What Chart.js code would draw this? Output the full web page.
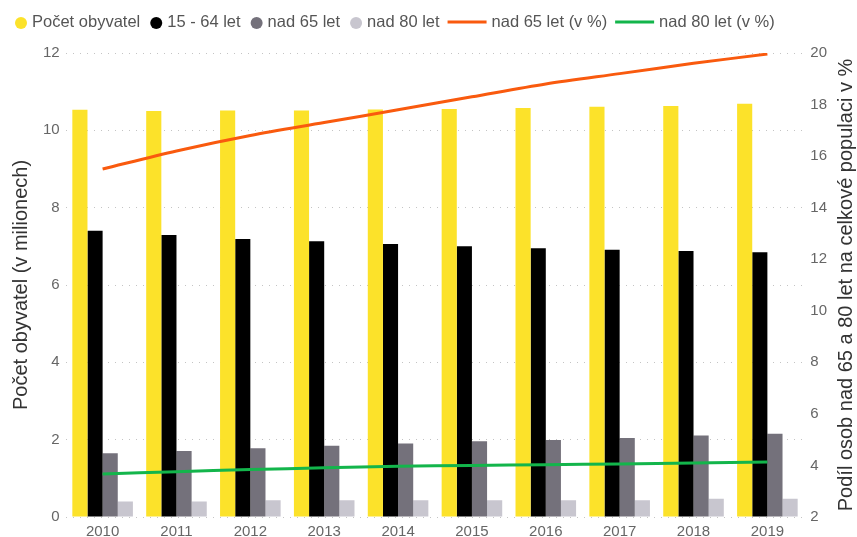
<!DOCTYPE html>
<html>
<head>
<meta charset="utf-8">
<script src="https://cdn.jsdelivr.net/npm/chart.js@4.4.1/dist/chart.umd.min.js"></script>
<style>
  html, body { margin: 0; padding: 0; background: #fff; }
  #wrap { width: 857px; height: 537px; position: relative; }
</style>
</head>
<body>
<div id="wrap"><canvas id="chart"></canvas></div>
<script>
const years = ["2010", "2011", "2012", "2013", "2014", "2015", "2016", "2017", "2018", "2019"];
const population = [10.53, 10.50, 10.51, 10.51, 10.54, 10.55, 10.58, 10.61, 10.63, 10.69];
const age15to64 = [7.40, 7.29, 7.19, 7.13, 7.06, 7.00, 6.95, 6.91, 6.88, 6.85];
const over65 = [1.65, 1.71, 1.78, 1.84, 1.90, 1.96, 1.99, 2.04, 2.11, 2.15];
const over80 = [0.40, 0.40, 0.43, 0.43, 0.43, 0.43, 0.43, 0.43, 0.47, 0.47];
const over65pct = [15.5, 16.2, 16.8, 17.3, 17.8, 18.3, 18.8, 19.2, 19.6, 19.96];
const over80pct = [3.67, 3.76, 3.84, 3.91, 3.97, 4.00, 4.03, 4.06, 4.09, 4.13];

const FONT = "'Liberation Sans', Arial, sans-serif";
const rightTitle = "Podíl osob nad 65 a 80 let na celkové populaci v %";

// legend drawn by hand: circles for bars, wide line for the lines
const customLegend = {
  id: "customLegend",
  afterDraw(chart) {
    const ctx = chart.ctx;
    ctx.save();
    ctx.font = "16.5px " + FONT;
    ctx.textBaseline = "middle";
    const y = 22;
    let x = 15;
    chart.data.datasets.forEach(function (ds, i) {
      if (ds.type === "line") {
        x += i > 0 ? 8 : 0;
        ctx.strokeStyle = ds.borderColor;
        ctx.lineWidth = 3;
        ctx.beginPath();
        ctx.moveTo(x, y);
        ctx.lineTo(x + 39, y);
        ctx.stroke();
        x += 44;
      } else {
        x += i > 0 ? 10 : 0;
        ctx.fillStyle = ds.backgroundColor;
        ctx.beginPath();
        ctx.arc(x + 6, y + 1, 6, 0, Math.PI * 2);
        ctx.fill();
        x += 17;
      }
      ctx.fillStyle = "#555";
      ctx.fillText(ds.label, x, y);
      x += ctx.measureText(ds.label).width;
    });

    // right axis title, reading bottom to top
    ctx.translate(846, (chart.chartArea.top + chart.chartArea.bottom) / 2);
    ctx.rotate(-Math.PI / 2);
    ctx.textAlign = "center";
    ctx.font = "20px " + FONT;
    ctx.fillStyle = "#333";
    ctx.fillText(rightTitle, 0, 0);
    ctx.restore();
  },
};

new Chart(document.getElementById("chart"), {
  type: "bar",
  data: {
    labels: years,
    datasets: [
      { label: "Počet obyvatel", data: population, backgroundColor: "#FCE22A", yAxisID: "y", order: 2 },
      { label: "15 - 64 let", data: age15to64, backgroundColor: "#000000", yAxisID: "y", order: 2 },
      { label: "nad 65 let", data: over65, backgroundColor: "#74717B", yAxisID: "y", order: 2 },
      { label: "nad 80 let", data: over80, backgroundColor: "#C8C6CF", yAxisID: "y", order: 2 },
      {
        type: "line",
        label: "nad 65 let (v %)",
        data: over65pct,
        borderColor: "#F95A0E",
        borderWidth: 3,
        pointRadius: 0,
        tension: 0.3,
        yAxisID: "y1",
        order: 1,
      },
      {
        type: "line",
        label: "nad 80 let (v %)",
        data: over80pct,
        borderColor: "#13B54B",
        borderWidth: 3,
        pointRadius: 0,
        tension: 0.3,
        yAxisID: "y1",
        order: 1,
      },
    ],
  },
  options: {
    responsive: true,
    maintainAspectRatio: false,
    animation: false,
    layout: { padding: { top: 53, right: 24, left: 9, bottom: -10 } },
    datasets: {
      bar: { barPercentage: 1, categoryPercentage: 0.82 },
    },
    scales: {
      x: {
        grid: { display: false, drawTicks: false },
        border: { display: false },
        ticks: { color: "#666", font: { family: FONT, size: 15 }, padding: 6 },
      },
      y: {
        position: "left",
        min: 0,
        max: 12,
        ticks: { stepSize: 2, color: "#666", font: { family: FONT, size: 15 }, padding: 6 },
        grid: { color: "#c4c4c4", lineWidth: 1, drawTicks: false },
        border: { display: false, dash: [1, 6] },
        title: {
          display: true,
          text: "Počet obyvatel (v milionech)",
          color: "#333",
          font: { family: FONT, size: 20 },
          padding: { top: 0, bottom: 4 },
        },
      },
      y1: {
        position: "right",
        min: 2,
        max: 20,
        ticks: { stepSize: 2, color: "#666", font: { family: FONT, size: 15 }, padding: 6 },
        grid: { display: false, drawTicks: false },
        border: { display: false },
      },
    },
    plugins: {
      legend: { display: false },
      tooltip: { enabled: false },
    },
  },
  plugins: [customLegend],
});
</script>
</body>
</html>
